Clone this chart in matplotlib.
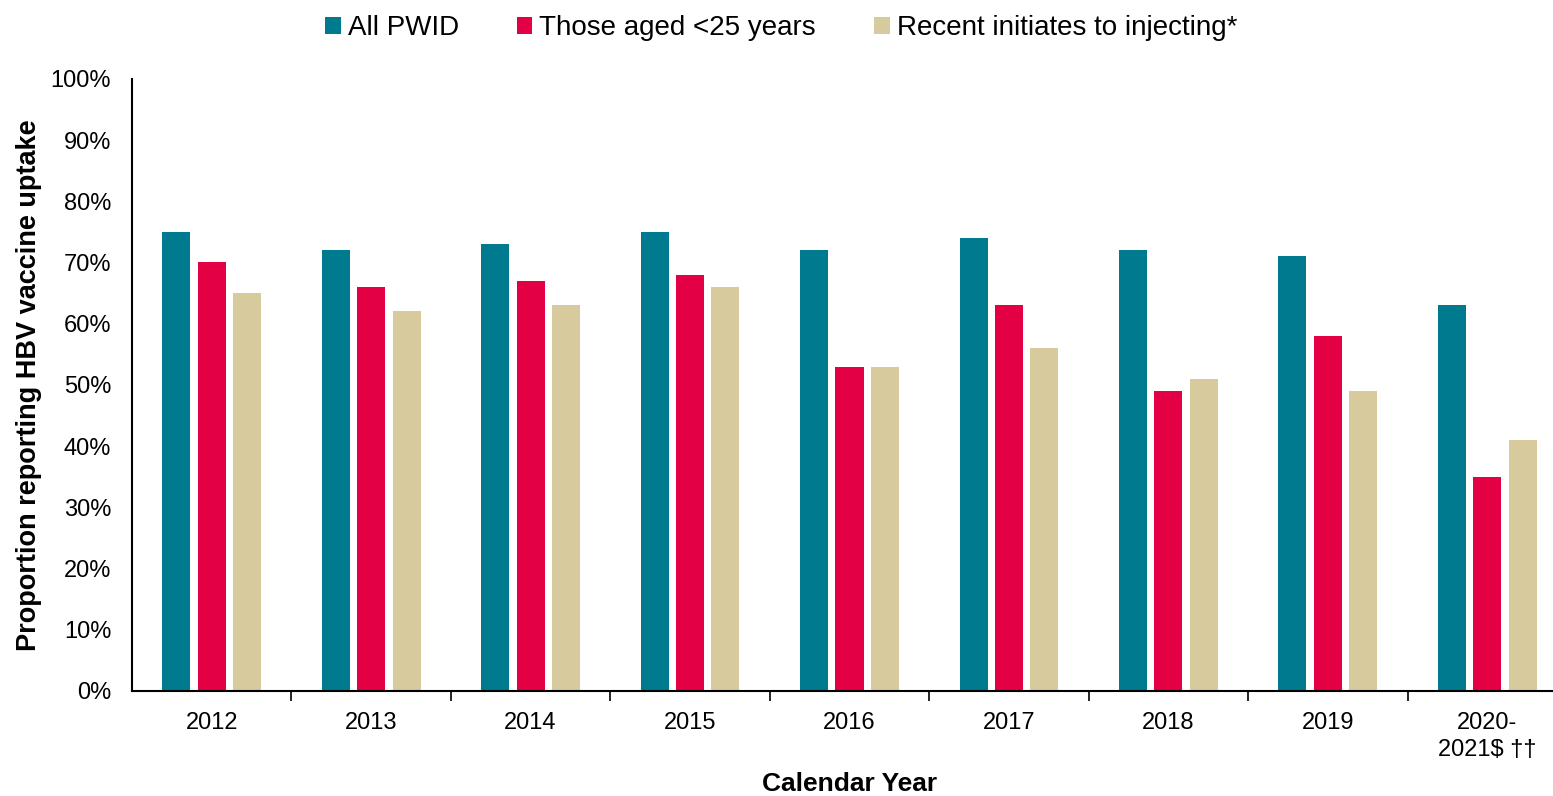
import matplotlib
matplotlib.use("Agg")
import matplotlib.pyplot as plt
import numpy as np
from matplotlib.ticker import FuncFormatter

plt.rcParams['font.family'] = ['Liberation Sans', 'DejaVu Sans']

years = ["2012", "2013", "2014", "2015", "2016", "2017", "2018", "2019", "2020-\n2021$ ††"]
all_pwid = [75, 72, 73, 75, 72, 74, 72, 71, 63]
aged_under_25 = [70, 66, 67, 68, 53, 63, 49, 58, 35]
recent_initiates = [65, 62, 63, 66, 53, 56, 51, 49, 41]

series = [
    ("All PWID", all_pwid, "#007A8F"),
    ("Those aged <25 years", aged_under_25, "#E30045"),
    ("Recent initiates to injecting*", recent_initiates, "#D7CB9E"),
]

fig = plt.figure(figsize=(15.53, 7.96), dpi=100)
ax = fig.add_axes([0.085, 0.132, 0.924, 0.769])

x = np.arange(len(years))
width = 0.176
offsets = [-0.222, 0.0, 0.222]
for (label, vals, color), off in zip(series, offsets):
    ax.bar(x + off, vals, width, color=color, label=label, zorder=2)

ax.set_xlim(-0.5, len(years) - 0.5)
ax.set_ylim(0, 100)
ax.set_yticks(np.arange(0, 101, 10))
ax.yaxis.set_major_formatter(FuncFormatter(lambda v, p: f"{int(v)}%"))
ax.tick_params(axis='y', length=0, labelsize=17, pad=15)

ax.set_xticks(x)
ax.set_xticklabels(years, linespacing=1.3)
ax.set_xticks(np.arange(0.5, len(years) - 0.5, 1), minor=True)
ax.tick_params(axis='x', which='major', length=0, labelsize=17, pad=15)
ax.tick_params(axis='x', which='minor', length=7, width=1.2, direction='out')

for side in ['top', 'right']:
    ax.spines[side].set_visible(False)
ax.spines['left'].set_linewidth(1.5)
ax.spines['bottom'].set_linewidth(1.5)

ax.set_ylabel("Proportion reporting HBV vaccine uptake", fontsize=19.5, fontweight='bold', labelpad=6)
ax.set_xlabel("Calendar Year", fontsize=19, fontweight='bold', labelpad=8)

fig.legend(loc='upper center', bbox_to_anchor=(0.503, 1.012), ncol=3, frameon=False,
           fontsize=20, handlelength=0.55, handleheight=0.55, handletextpad=0.25,
           columnspacing=2.1)

fig.savefig("out.png", dpi=100)
